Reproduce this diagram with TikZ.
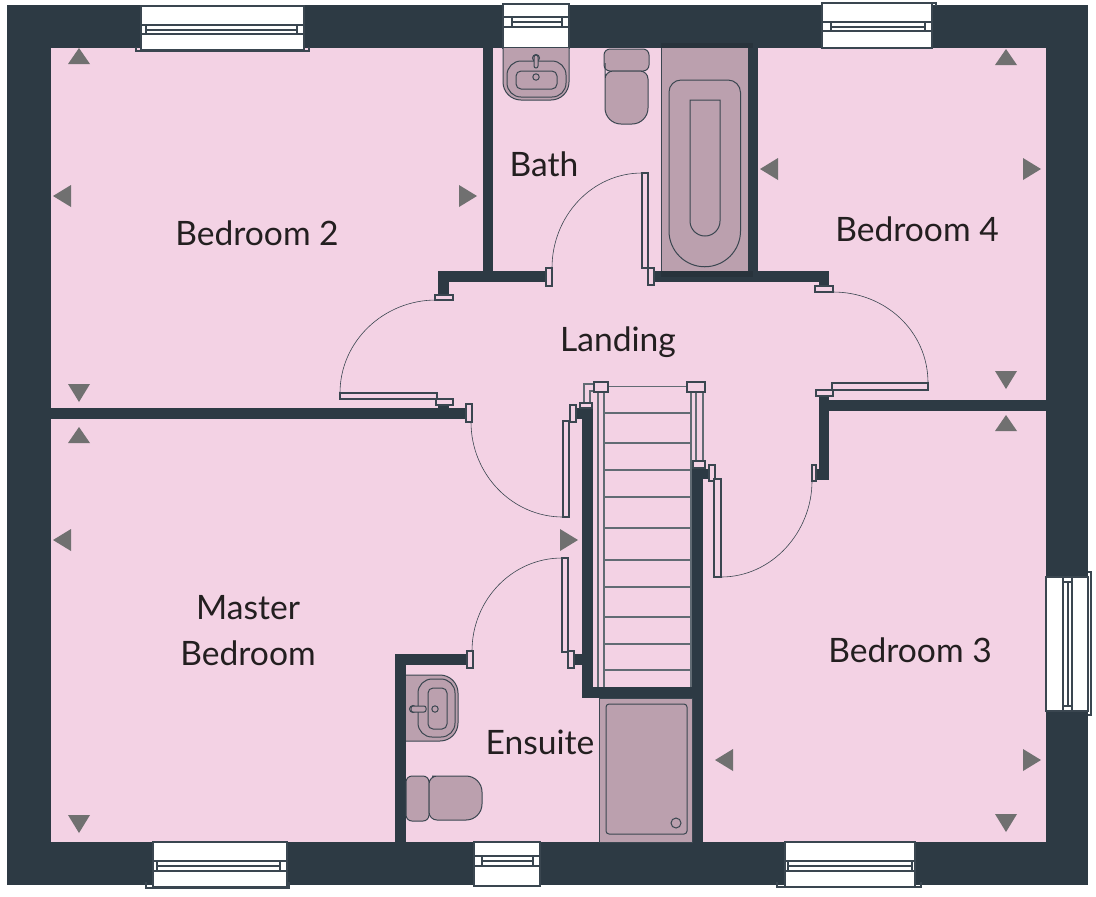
\documentclass[tikz,border=0pt]{standalone}
\usepackage{fontspec}
\setmainfont{Lato}
\definecolor{wallc}{HTML}{2D3A44}
\definecolor{roomc}{HTML}{F3D2E4}
\definecolor{fixc}{HTML}{BBA0AE}
\definecolor{markc}{HTML}{707070}
\definecolor{textc}{HTML}{231F20}
\definecolor{linec}{HTML}{3A4650}
\tikzset{
  wall/.style={fill=wallc},
  part/.style={draw=linec, line width=0.7pt, fill=roomc},
  pane/.style={draw=linec, line width=0.6pt, fill=white},
  fixture/.style={draw=linec, line width=0.5pt, fill=fixc},
  swing/.style={draw=linec, line width=0.3pt},
  tread/.style={draw=linec!80, line width=0.6pt},
  marker/.style={fill=markc},
  room/.style={text=textc, font=\fontsize{16.8}{19}\selectfont, align=center},
}
\begin{document}
\begin{tikzpicture}[x=0.5pt, y=-0.5pt]
  \useasboundingbox (0, 0) rectangle (1096, 896);
  \fill [white] (0, 0) rectangle (1096, 896);

  % Shell
  \fill [wall] (7, 5) rectangle (1088, 885);
  \fill [roomc] (51, 48) rectangle (1046, 842);

  % Top and bottom windows
  \foreach \xa/\xb/\ya/\yb/\la/\lb/\lc/\ia/\ib in {
      141/304/6/50/25/30/34/146/297,
      503/569/4/48/17/22/27/512/562,
      822/932/3/48/22/27/31/831/925,
      153/287/842/887/861/866/871/157/280,
      474/540/842/886/856/861/866/482/533,
      785/915/842/887/861/866/871/788/912} {
    \draw [pane] (\xa, \ya) rectangle (\xb, \yb);
    \draw [pane] (\xa, \la) rectangle (\xb, \lc);
    \draw [pane] (\ia, \la) rectangle (\ib, \lb);
    \draw [pane] (\ia, \lb) rectangle (\ib, \lc);
  }
  % Sills
  \draw [pane, fill=none] (136, 47) -- (136, 51) -- (309, 51) -- (309, 47);
  \draw [pane, fill=none] (822, 3) -- (936, 3) -- (936, 6);
  \draw [pane, fill=none] (146, 882) -- (146, 888) -- (289, 888) -- (289, 882);
  \draw [pane, fill=none] (777, 882) -- (777, 887) -- (921, 887) -- (921, 882);

  % Side window
  \draw [pane] (1046, 577) rectangle (1088, 711);
  \draw [pane] (1063, 577) rectangle (1072, 711);
  \draw [pane] (1063, 582) rectangle (1068, 706);
  \draw [pane] (1068, 582) rectangle (1072, 706);
  \draw [pane, fill=none] (1088, 572) -- (1091, 572) -- (1091, 715) -- (1088, 715);

  % Bathroom walls
  \fill [wall] (483, 48) rectangle (493, 282);
  \fill [wall] (438, 271) rectangle (546, 282);
  \fill [wall] (438, 271) rectangle (449, 295);
  \fill [wall] (748, 48) rectangle (758, 282);
  \fill [wall] (654, 271) rectangle (829, 282);
  \fill [wall] (819, 271) rectangle (829, 286);

  % Bedroom walls
  \fill [wall] (51, 408) rectangle (466, 419);
  \fill [wall] (438, 404) rectangle (449, 408);
  \fill [wall] (819, 396) rectangle (829, 480);
  \fill [wall] (816, 469) rectangle (829, 480);
  \fill [wall] (829, 400) rectangle (1046, 411);

  % Stair walls
  \fill [wall] (582, 408) rectangle (593, 698);
  \fill [wall] (582, 687) rectangle (703, 698);
  \fill [wall] (692, 468) rectangle (703, 842);
  \fill [wall] (703, 469) rectangle (710, 479);
  \fill [wall] (574, 408) rectangle (582, 419);
  \fill [wall] (574, 654) rectangle (582, 665);

  % Ensuite walls
  \fill [wall] (395, 654) rectangle (406, 842);
  \fill [wall] (395, 654) rectangle (467, 665);

  % Door jambs
  \foreach \xa/\ya/\xb/\yb in {
      435/295/453/300, 546/268/552/286, 648/268/654/285, 815/286/833/292,
      816/390/833/396, 436/399/453/405, 466/404/472/422, 570/405/576/422,
      467/651/473/668, 568/651/574/668, 709/465/715/481, 812/465/816/481} {
    \draw [part] (\xa, \ya) rectangle (\xb, \yb);
  }

  % Door leaves
  \foreach \xa/\ya/\xb/\yb in {
      642/173/648/268, 832/383/928/390, 340/393/437/399,
      563/421/569/517, 562/558/568/652, 714/479/721/577} {
    \draw [part] (\xa, \ya) rectangle (\xb, \yb);
  }

  % Door swings
  \draw [swing] (552, 268) .. controls (552, 216) and (592, 173) .. (642, 173);
  \draw [swing] (833, 292) .. controls (885, 292) and (928, 331) .. (928, 383);
  \draw [swing] (340, 393) .. controls (340, 341) and (384, 300) .. (436, 300);
  \draw [swing] (471, 422) .. controls (471, 474) and (512, 517) .. (563, 517);
  \draw [swing] (472, 651) .. controls (472, 600) and (512, 558) .. (562, 558);
  \draw [swing] (721, 577) .. controls (772, 577) and (812, 532) .. (812, 481);

  % Stairs
  \foreach \y in {413, 443, 470, 497, 528, 560, 587, 617, 644, 670} {
    \draw [tread] (604, \y) -- (691, \y);
  }
  \draw [tread] (598, 392) -- (598, 687);
  \draw [tread] (604, 392) -- (604, 687);
  \draw [tread] (608, 386.5) -- (687, 386.5);
  \draw [tread] (691, 392) -- (691, 687);
  \draw [tread] (696, 392) -- (696, 461);
  \draw [tread] (703, 392) -- (703, 461);
  \draw [tread] (584, 403) -- (584, 384) -- (594, 384);
  \draw [tread] (590, 403) -- (590, 391) -- (594, 391);
  \draw [part] (594, 382) rectangle (608, 392);
  \draw [part] (687, 382) rectangle (705, 392);
  \draw [part] (693, 461) rectangle (705, 468);
  \draw [part] (580, 403) rectangle (592, 408);

  % Bath
  \fill [wallc!88!black] (661, 43) rectangle (753, 48);
  \fill [wallc!88!black] (661, 271) rectangle (753, 277);
  \fill [fixc] (661.5, 48) rectangle (748, 271);
  \draw [linec, line width=0.4pt] (661.5, 48) -- (661.5, 271);
  \draw [fixture, fill=none] (669, 92) arc [start angle=180, end angle=270, radius=12]
        -- (728, 80) arc [start angle=270, end angle=360, radius=12.5]
        -- (740.5, 231) arc [start angle=0, end angle=180, radius=35.75] -- cycle;
  \draw [fixture, fill=none] (690, 100) -- (720, 100) -- (720, 221)
        arc [start angle=0, end angle=180, radius=15] -- cycle;

  % Bath basin and toilet
  \draw [fixture, rounded corners=9pt] (503, 48) -- (503, 100) -- (569, 100) -- (569, 48);
  \draw [fixture, rounded corners=7pt] (507, 61) rectangle (566, 97);
  \draw [fixture, rounded corners=2.5pt] (516, 71) rectangle (557, 89);
  \draw [fixture] (536, 77) circle [radius=3.2];
  \draw [fixture] (536, 58) circle [radius=3.5];
  \draw [fixture, rounded corners=1pt] (534, 55) rectangle (538, 68);
  \draw [fixture, rounded corners=3pt] (604, 49) rectangle (649, 71);
  \draw [fixture] (605, 79)
        [rounded corners=4pt] -- (605, 71) -- (648, 71)
        [rounded corners=8pt] -- (648, 124) -- (605, 124) -- cycle;

  % Ensuite fittings
  \draw [fixture, rounded corners=9pt] (406, 675) -- (458, 675) -- (458, 741) -- (406, 741);
  \draw [fixture, rounded corners=7pt] (418, 679) rectangle (455, 737);
  \draw [fixture, rounded corners=2.5pt] (428, 688) rectangle (447, 729);
  \draw [fixture] (435, 709) circle [radius=3.2];
  \draw [fixture] (413, 709) circle [radius=3.5];
  \draw [fixture, rounded corners=1pt] (411, 706) rectangle (426, 712);
  \draw [fixture, rounded corners=3pt] (406, 776) rectangle (429, 821);
  \draw [fixture] (440, 776)
        [rounded corners=8pt] -- (482, 776) -- (482, 820)
        [rounded corners=4pt] -- (429, 820) -- (429, 776) -- cycle;

  % Shower
  \draw [fixture] (599.5, 698) -- (599.5, 842) -- (692, 842) -- (692, 698) -- cycle;
  \draw [fixture, rounded corners=1.5pt] (606, 704) rectangle (687, 834);
  \draw [fixture] (676, 823) circle [radius=5];

  % Ceiling markers
  \foreach \x/\y in {79/48, 79/427, 1006/49, 1006/415} {
    \fill [marker] (\x, \y) -- ++(11, 16) -- ++(-22, 0) -- cycle;
  }
  \foreach \x/\y in {79/402, 79/833, 1006/389, 1006/832} {
    \fill [marker] (\x, \y) -- ++(11, -18) -- ++(-22, 0) -- cycle;
  }
  \foreach \x/\y in {53/196, 53/540, 760/169, 715/760} {
    \fill [marker] (\x, \y) -- ++(18, -11) -- ++(0, 22) -- cycle;
  }
  \foreach \x/\y in {477/196, 578/540, 1041/169, 1041/760} {
    \fill [marker] (\x, \y) -- ++(-18, -11) -- ++(0, 22) -- cycle;
  }

  % Room names
  \node [room] (bedroomtwo) at (257, 233) {Bedroom 2};
  \node [room] (bath) at (544, 164) {Bath};
  \node [room] (bedroomfour) at (917, 229) {Bedroom 4};
  \node [room] (landing) at (618, 342) {Landing};
  \node [room] (master) at (248, 608) {Master};
  \node [room] (masterbed) at (248, 653) {Bedroom};
  \node [room] (ensuite) at (540, 742) {Ensuite};
  \node [room] (bedroomthree) at (910, 650) {Bedroom 3};
\end{tikzpicture}
\end{document}
